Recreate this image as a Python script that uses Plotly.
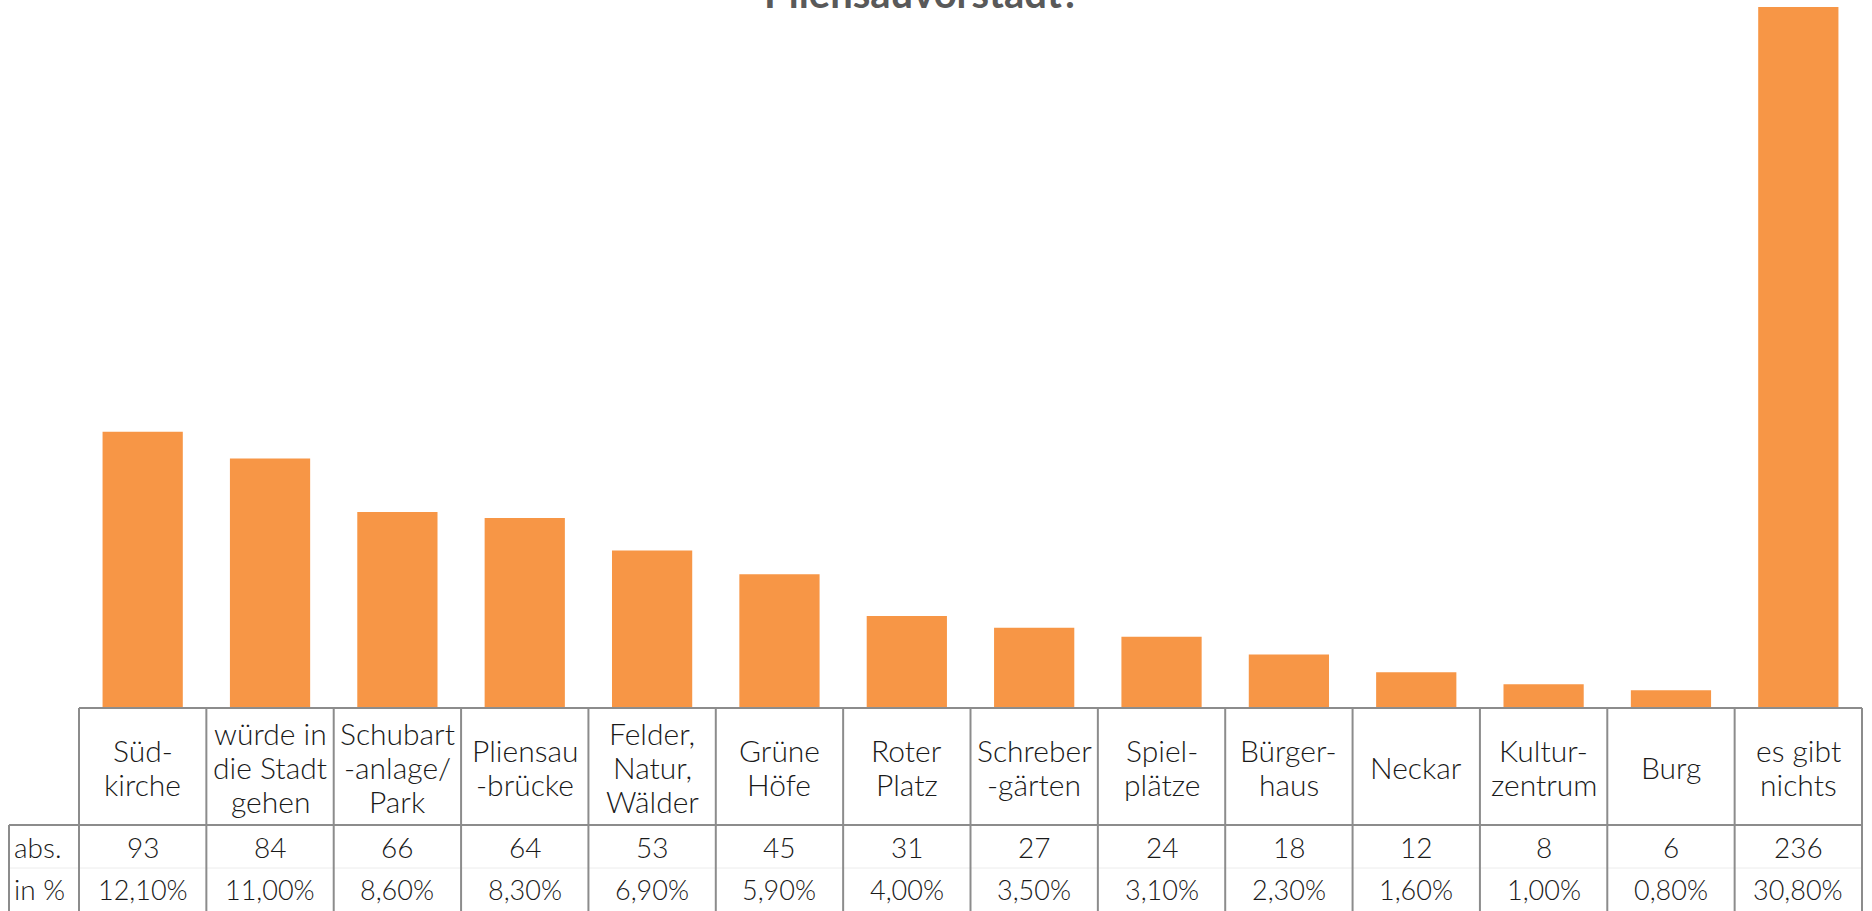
import plotly.graph_objects as go

# ---- data ----
categories = ["Südkirche", "würde in die Stadt gehen", "Schubartanlage/Park", "Pliensaubrücke",
              "Felder, Natur, Wälder", "Grüne Höfe", "Roter Platz", "Schrebergärten",
              "Spielplätze", "Bürgerhaus", "Neckar", "Kulturzentrum", "Burg", "es gibt nichts"]
header_labels = ["Süd-\nkirche", "würde in\ndie Stadt\ngehen", "Schubart\n-anlage/\nPark", "Pliensau\n-brücke",
                 "Felder,\nNatur,\nWälder", "Grüne\nHöfe", "Roter\nPlatz", "Schreber\n-gärten",
                 "Spiel-\nplätze", "Bürger-\nhaus", "Neckar", "Kultur-\nzentrum", "Burg", "es gibt\nnichts"]
abs_values = [93, 84, 66, 64, 53, 45, 31, 27, 24, 18, 12, 8, 6, 236]
pct_labels = ["12,10%", "11,00%", "8,60%", "8,30%", "6,90%", "5,90%", "4,00%", "3,50%",
              "3,10%", "2,30%", "1,60%", "1,00%", "0,80%", "30,80%"]
row_labels = ["abs.", "in %"]
title_text = "Pliensauvorstadt?"

# ---- geometry (pixels) ----
W, H = 1872, 911
L, R = 79, 1862
TOP, BASE = 7, 708
HDR_BOT = 825
MID = 868
LBL_LEFT = 9
plot_w = R - L
plot_h = BASE - TOP
n = len(categories)

def py(Y):  # pixel y -> paper y
    return (BASE - Y) / plot_h

def px(X):  # pixel x -> paper x
    return (X - L) / plot_w

FONT = "Lato, 'Open Sans', sans-serif"
TXT = "#1a1a1a"
LINE = "#8c8c8c"
FW = 300

fig = go.Figure()
fig.add_trace(go.Bar(x=categories, y=abs_values, width=0.63,
                     marker=dict(color="#F79646", line=dict(width=0)),
                     hoverinfo="x+y"))

shapes = []
shapes.append(dict(type="line", xref="paper", yref="paper", x0=0, x1=1, y0=py(BASE), y1=py(BASE),
                   line=dict(color=LINE, width=2)))
shapes.append(dict(type="line", xref="paper", yref="paper", x0=px(LBL_LEFT), x1=1, y0=py(HDR_BOT), y1=py(HDR_BOT),
                   line=dict(color=LINE, width=2)))
shapes.append(dict(type="line", xref="paper", yref="paper", x0=px(LBL_LEFT), x1=1, y0=py(MID), y1=py(MID),
                   line=dict(color="#ececec", width=1)))
shapes.append(dict(type="line", xref="paper", yref="paper", x0=px(LBL_LEFT), x1=px(LBL_LEFT),
                   y0=py(HDR_BOT), y1=py(H + 5), line=dict(color=LINE, width=2)))
for i in range(n + 1):
    xp = i / n
    shapes.append(dict(type="line", xref="paper", yref="paper", x0=xp, x1=xp, y0=py(BASE), y1=py(H + 5),
                       line=dict(color=LINE, width=2)))

annotations = []
LS = 34
HDR_C = 767
for cat, lab in zip(categories, header_labels):
    lines = lab.split("\n")
    k = len(lines)
    for j, t in enumerate(lines):
        yc = HDR_C + (j - (k - 1) / 2) * LS
        annotations.append(dict(x=cat, xref="x", y=py(yc), yref="paper", text=t, showarrow=False,
                                xanchor="center", yanchor="middle",
                                font=dict(family=FONT, size=30, color=TXT, weight=FW)))
for cat, v, p in zip(categories, abs_values, pct_labels):
    annotations.append(dict(x=cat, xref="x", y=py(847), yref="paper", text=str(v), showarrow=False,
                            xanchor="center", yanchor="middle",
                            font=dict(family=FONT, size=28, color=TXT, weight=FW)))
    annotations.append(dict(x=cat, xref="x", y=py(889), yref="paper", text=p, showarrow=False,
                            xanchor="center", yanchor="middle",
                            font=dict(family=FONT, size=27, color=TXT, weight=FW)))
for lbl, yc in zip(row_labels, [847, 889]):
    annotations.append(dict(x=px(12), xref="paper", y=py(yc), yref="paper", text=lbl, showarrow=False,
                            xanchor="left", yanchor="middle",
                            font=dict(family=FONT, size=28, color=TXT, weight=FW)))
annotations.append(dict(x=px(922), xref="paper", y=py(19), yref="paper", text="<b>" + title_text + "</b>",
                        showarrow=False, xanchor="center", yanchor="bottom",
                        font=dict(family=FONT, size=40, color="#595959")))

fig.update_layout(
    width=W, height=H, autosize=False,
    margin=dict(l=L, r=W - R, t=TOP, b=H - BASE, pad=0),
    paper_bgcolor="white", plot_bgcolor="white",
    showlegend=False,
    xaxis=dict(range=[-0.5, n - 0.5], showticklabels=False, showgrid=False, zeroline=False,
               showline=False, ticks=""),
    yaxis=dict(range=[0, 236], showticklabels=False, showgrid=False, zeroline=False,
               showline=False, ticks=""),
    shapes=shapes, annotations=annotations,
)

fig.write_html("out.html", config={"displayModeBar": False},
               post_script="document.body.style.margin='0';document.body.style.overflow='hidden';")
